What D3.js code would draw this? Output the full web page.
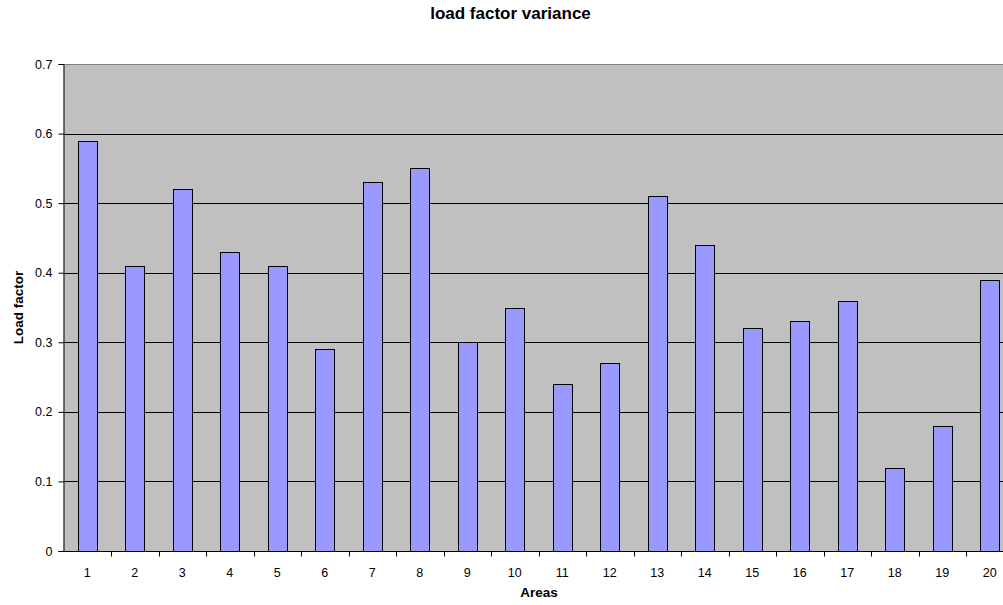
<!DOCTYPE html>
<html>
<head>
<meta charset="utf-8">
<script src="https://cdn.jsdelivr.net/npm/d3@7"></script>
<style>
  html, body { margin: 0; padding: 0; background: #fff; }
  svg { display: block; font-family: Arial, "Liberation Sans", sans-serif; }
</style>
</head>
<body>
<svg id="chart" width="1003" height="605"></svg>
<script>
// Load factor per area
const areas = ["1","2","3","4","5","6","7","8","9","10","11","12","13","14","15","16","17","18","19","20"];
const loadFactor = [0.59,0.41,0.52,0.43,0.41,0.29,0.53,0.55,0.30,0.35,0.24,0.27,0.51,0.44,0.32,0.33,0.36,0.12,0.18,0.39];
const yTicks = [0,0.1,0.2,0.3,0.4,0.5,0.6,0.7];

const svg = d3.select("#chart");
const margin = {left: 63.5, top: 64, bottom: 551};
const bandW = 47.5;
const plotRight = margin.left + bandW * areas.length;

const x = d3.scaleBand().domain(areas).range([margin.left, plotRight]).paddingInner(0.6).paddingOuter(0.3);
const xEdge = d3.scaleBand().domain(areas).range([margin.left, plotRight]);
const y = d3.scaleLinear().domain([0, 0.7]).range([margin.bottom, margin.top]);

// plot background
svg.append("rect")
  .attr("x", margin.left).attr("y", margin.top)
  .attr("width", plotRight - margin.left).attr("height", margin.bottom - margin.top)
  .attr("fill", "#c0c0c0");

// gridlines
svg.append("g").selectAll("line").data(yTicks.filter(d => d > 0)).join("line")
  .attr("x1", margin.left).attr("x2", plotRight)
  .attr("y1", d => Math.round(y(d)) + 0.5).attr("y2", d => Math.round(y(d)) + 0.5)
  .attr("stroke", d => d === 0.7 ? "#808080" : "#000")
  .attr("stroke-width", 1);

// bars
svg.append("g").selectAll("rect").data(loadFactor).join("rect")
  .attr("x", (d, i) => Math.round(x(areas[i])) + 0.5)
  .attr("y", d => Math.round(y(d)) + 0.5)
  .attr("width", x.bandwidth())
  .attr("height", d => Math.round(y(0)) - Math.round(y(d)))
  .attr("fill", "#9999ff")
  .attr("stroke", "#000")
  .attr("stroke-width", 1);

// y axis
const yAxis = svg.append("g")
  .attr("transform", `translate(${margin.left},0)`)
  .call(d3.axisLeft(y).tickValues(yTicks).tickSize(5).tickPadding(6)
    .tickFormat(d => d === 0 ? "0" : d3.format(".1f")(d)));
yAxis.select(".domain").attr("stroke", "#000");
yAxis.selectAll(".tick line").attr("stroke", "#000");
yAxis.selectAll("text").attr("font-size", 12.5).attr("fill", "#000")
  .attr("font-family", "Arial, 'Liberation Sans', sans-serif");

// x axis: ticks at category boundaries
const xAxisG = svg.append("g").attr("transform", `translate(0,${margin.bottom + 0.5})`);
xAxisG.append("line").attr("x1", margin.left - 5).attr("x2", plotRight).attr("stroke", "#000");
xAxisG.selectAll("line.tk").data(areas).join("line").attr("class", "tk")
  .attr("x1", d => Math.round(xEdge(d) + bandW) + 0.5).attr("x2", d => Math.round(xEdge(d) + bandW) + 0.5)
  .attr("y1", 0).attr("y2", 5).attr("stroke", "#000");
xAxisG.selectAll("text").data(areas).join("text")
  .attr("x", d => xEdge(d) + bandW / 2).attr("y", 25)
  .attr("text-anchor", "middle").attr("font-size", 12.5).attr("fill", "#000")
  .text(d => d);

// titles
svg.append("text").attr("x", 510.5).attr("y", 19).attr("text-anchor", "middle")
  .attr("font-size", 17).attr("font-weight", "bold").text("load factor variance");
svg.append("text").attr("x", 539).attr("y", 596.5).attr("text-anchor", "middle")
  .attr("font-size", 13.5).attr("font-weight", "bold").text("Areas");
svg.append("text").attr("transform", "translate(22.5,307.5) rotate(-90)").attr("text-anchor", "middle")
  .attr("font-size", 13.5).attr("font-weight", "bold").text("Load factor");
</script>
</body>
</html>
